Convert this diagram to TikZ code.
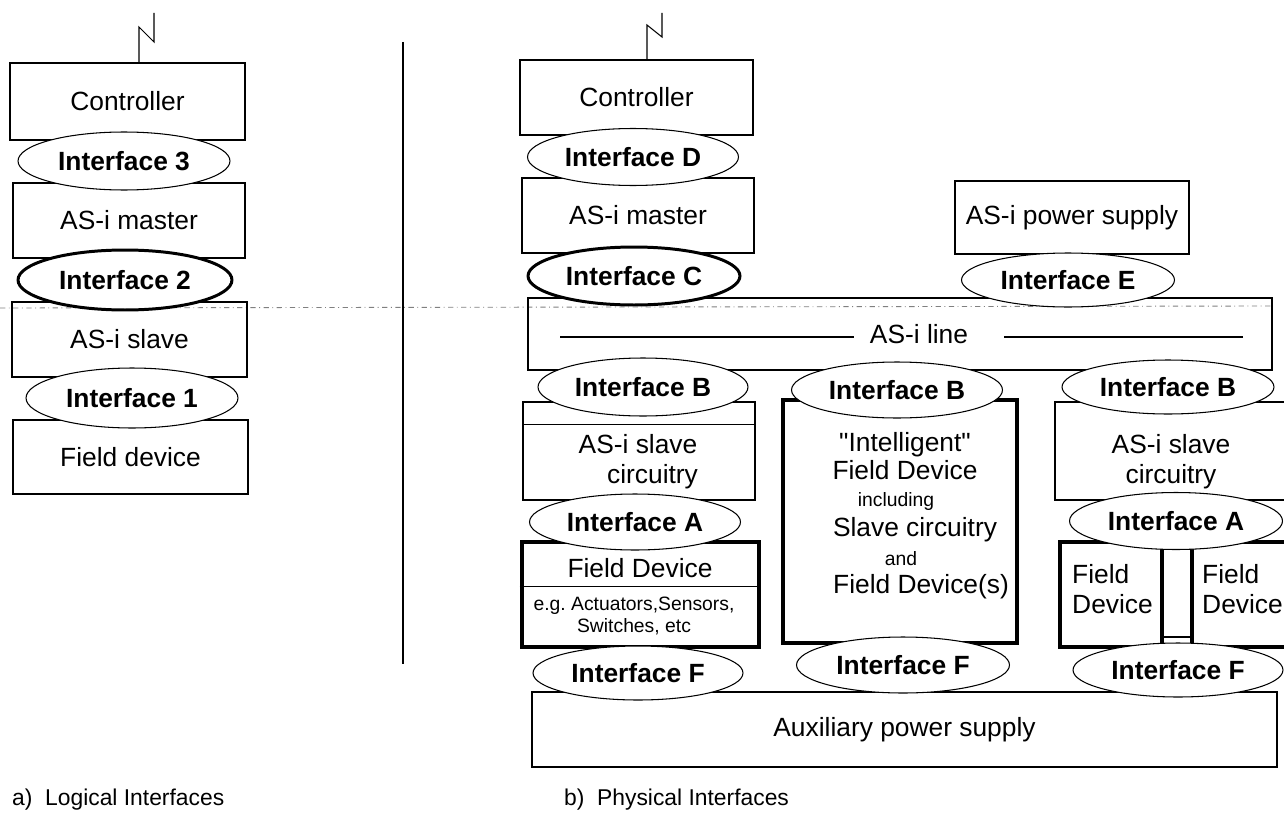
\documentclass[tikz,border=0pt]{standalone}
\usepackage{fontspec}
\setmainfont{Liberation Sans}
\usetikzlibrary{shapes.geometric}

\begin{document}
\begin{tikzpicture}[x=0.02cm, y=-0.02cm, font=\fontsize{15}{17}\selectfont,
    box/.style={draw, line width=0.8pt, inner sep=0pt},
    heavy/.style={draw, line width=1.4pt, inner sep=0pt},
    fat/.style={draw, line width=2.8pt, inner sep=0pt},
    iface/.style={ellipse, draw, line width=0.6pt, fill=white, inner sep=0pt,
                  font=\fontsize{15}{17}\selectfont\bfseries},
    ifacethick/.style={iface, line width=1.7pt},
    small/.style={font=\fontsize{11}{12.5}\selectfont}]
  \useasboundingbox (0,0) rectangle (1284,821);
  \clip (0,0) rectangle (1284,821);

  % Separators
  \draw[line width=0.5pt, gray, dash dot] (0,308) -- (1272,306);
  \draw[line width=0.8pt] (403,42) -- (403,664);

  % a) logical interfaces
  \node[box, minimum width=4.7cm, minimum height=1.54cm] (ctrlA) at (127.5,101.5) {Controller};
  \node[heavy, minimum width=4.64cm, minimum height=1.5cm] (masterA) at (129,220.5) {AS-i master};
  \node[heavy, minimum width=4.7cm, minimum height=1.5cm] (slaveA) at (129.5,339.5) {AS-i slave};
  \node[heavy, minimum width=4.7cm, minimum height=1.48cm] (fieldA) at (130.5,457) {Field device};
  \node[iface, minimum width=4.24cm, minimum height=1.16cm] (if3) at (124,161) {Interface 3};
  \node[ifacethick, minimum width=4.28cm, minimum height=1.2cm] (if2) at (125,280) {Interface 2};
  \node[iface, minimum width=4.24cm, minimum height=1.2cm] (if1) at (132,398) {Interface 1};
  \coordinate (antA1) at (139,27);
  \coordinate (antA2) at (154,42);
  \coordinate (antA3) at (154,13);
  \draw[line width=0.6pt] (ctrlA.north -| antA1) -- (antA1) -- (antA2) -- (antA3);

  % b) physical interfaces
  \node[box, minimum width=4.66cm, minimum height=1.5cm] (ctrlB) at (636.5,97.5) {Controller};
  \node[heavy, minimum width=4.64cm, minimum height=1.5cm] (masterB) at (638,215.5) {AS-i master};
  \node[heavy, minimum width=4.68cm, minimum height=1.46cm] (psu) at (1072,217.5) {AS-i power supply};
  \node[heavy, minimum width=14.88cm, minimum height=1.44cm] (line) at (900,334) {};
  \node (linetxt) at (919,334) {AS-i line};
  \coordinate (lineL) at (560,337);
  \coordinate (lineR) at (1243,337);
  \draw[line width=0.8pt] (lineL) -- ([xshift=-0.2cm]lineL -| linetxt.west);
  \draw[line width=0.8pt] (lineR) -- ([xshift=0.6cm]lineR -| linetxt.east);

  \node[box, minimum width=4.64cm, minimum height=1.96cm] (slaveL) at (639,451) {};
  \draw[line width=0.6pt] ([yshift=-0.46cm]slaveL.north west) -- ([yshift=-0.46cm]slaveL.north east);
  \node[align=center] (slaveLtxt) at (638,462) {AS-i slave\\\hspace*{1.1em}circuitry};
  \node[fat, minimum width=4.74cm, minimum height=2.1cm] (fieldL) at (640.5,594.5) {};
  \draw[line width=0.6pt] ([yshift=-0.94cm]fieldL.north west) -- ([yshift=-0.94cm]fieldL.north east);
  \node (fieldLtxt) at (640,568) {Field Device};
  \node[small, align=center] (fieldLsub) at (634,616) {e.g.\ Actuators,Sensors,\\Switches, etc};

  \node[fat, minimum width=4.68cm, minimum height=4.86cm] (smart) at (900,521.5) {};
  \node (sm1) at (905,445) {\textquotedbl Intelligent\textquotedbl};
  \node (sm2) at (905,470) {Field Device};
  \node[small] (sm3) at (896,501) {including};
  \node (sm4) at (915,530) {Slave circuitry};
  \node[small] (sm5) at (901,559) {and};
  \node (sm6) at (921,587) {Field Device(s)};

  \node[box, minimum width=4.9cm, minimum height=1.96cm] (slaveR) at (1177.5,451) {};
  \node[align=center] (slaveRtxt) at (1171,462) {AS-i slave\\circuitry};
  \node[fat, minimum width=2.04cm, minimum height=2.1cm] (fieldR1) at (1111,594.5) {};
  \node[fat, minimum width=2.36cm, minimum height=2.1cm] (fieldR2) at (1251,594.5) {};
  \node[box, minimum width=0.6cm, minimum height=1.9cm] (bridge) at (1177,589.5) {};
  \node[anchor=west, align=left] (fieldR1txt) at (1066,589) {Field\\Device};
  \node[anchor=west, align=left] (fieldR2txt) at (1196,589) {Field\\Device};

  \node[box, minimum width=14.9cm, minimum height=1.5cm] (aux) at (904.5,729.5) {Auxiliary power supply};

  \node[iface, minimum width=4.22cm, minimum height=1.14cm] (ifD) at (633,157) {Interface D};
  \node[ifacethick, minimum width=4.24cm, minimum height=1.16cm] (ifC) at (634,276) {Interface C};
  \node[iface, minimum width=4.26cm, minimum height=1.08cm] (ifE) at (1068,280) {Interface E};
  \node[iface, minimum width=4.2cm, minimum height=1.16cm] (ifB1) at (643,387) {Interface B};
  \node[iface, minimum width=4.22cm, minimum height=1.12cm] (ifB2) at (897,390) {Interface B};
  \node[iface, minimum width=4.24cm, minimum height=1.08cm] (ifB3) at (1168,387) {Interface B};
  \node[iface, minimum width=4.22cm, minimum height=1.12cm] (ifA1) at (635,522) {Interface A};
  \node[iface, minimum width=4.26cm, minimum height=1.14cm] (ifA2) at (1176,521) {Interface A};
  \node[iface, minimum width=4.2cm, minimum height=1.08cm] (ifF1) at (638,673) {Interface F};
  \node[iface, minimum width=4.26cm, minimum height=1.12cm] (ifF2) at (903,665) {Interface F};
  \node[iface, minimum width=4.2cm, minimum height=1.08cm] (ifF3) at (1178,670) {Interface F};

  \coordinate (antB1) at (647,25);
  \coordinate (antB2) at (662,37);
  \coordinate (antB3) at (662,13);
  \draw[line width=0.6pt] (ctrlB.north -| antB1) -- (antB1) -- (antB2) -- (antB3);

  % Captions
  \node[anchor=west, font=\fontsize{13}{15}\selectfont] (capA) at (6,800) {a)\ \ Logical Interfaces};
  \node[anchor=west, font=\fontsize{13}{15}\selectfont] (capB) at (558,800) {b)\ \ Physical Interfaces};
\end{tikzpicture}
\end{document}
